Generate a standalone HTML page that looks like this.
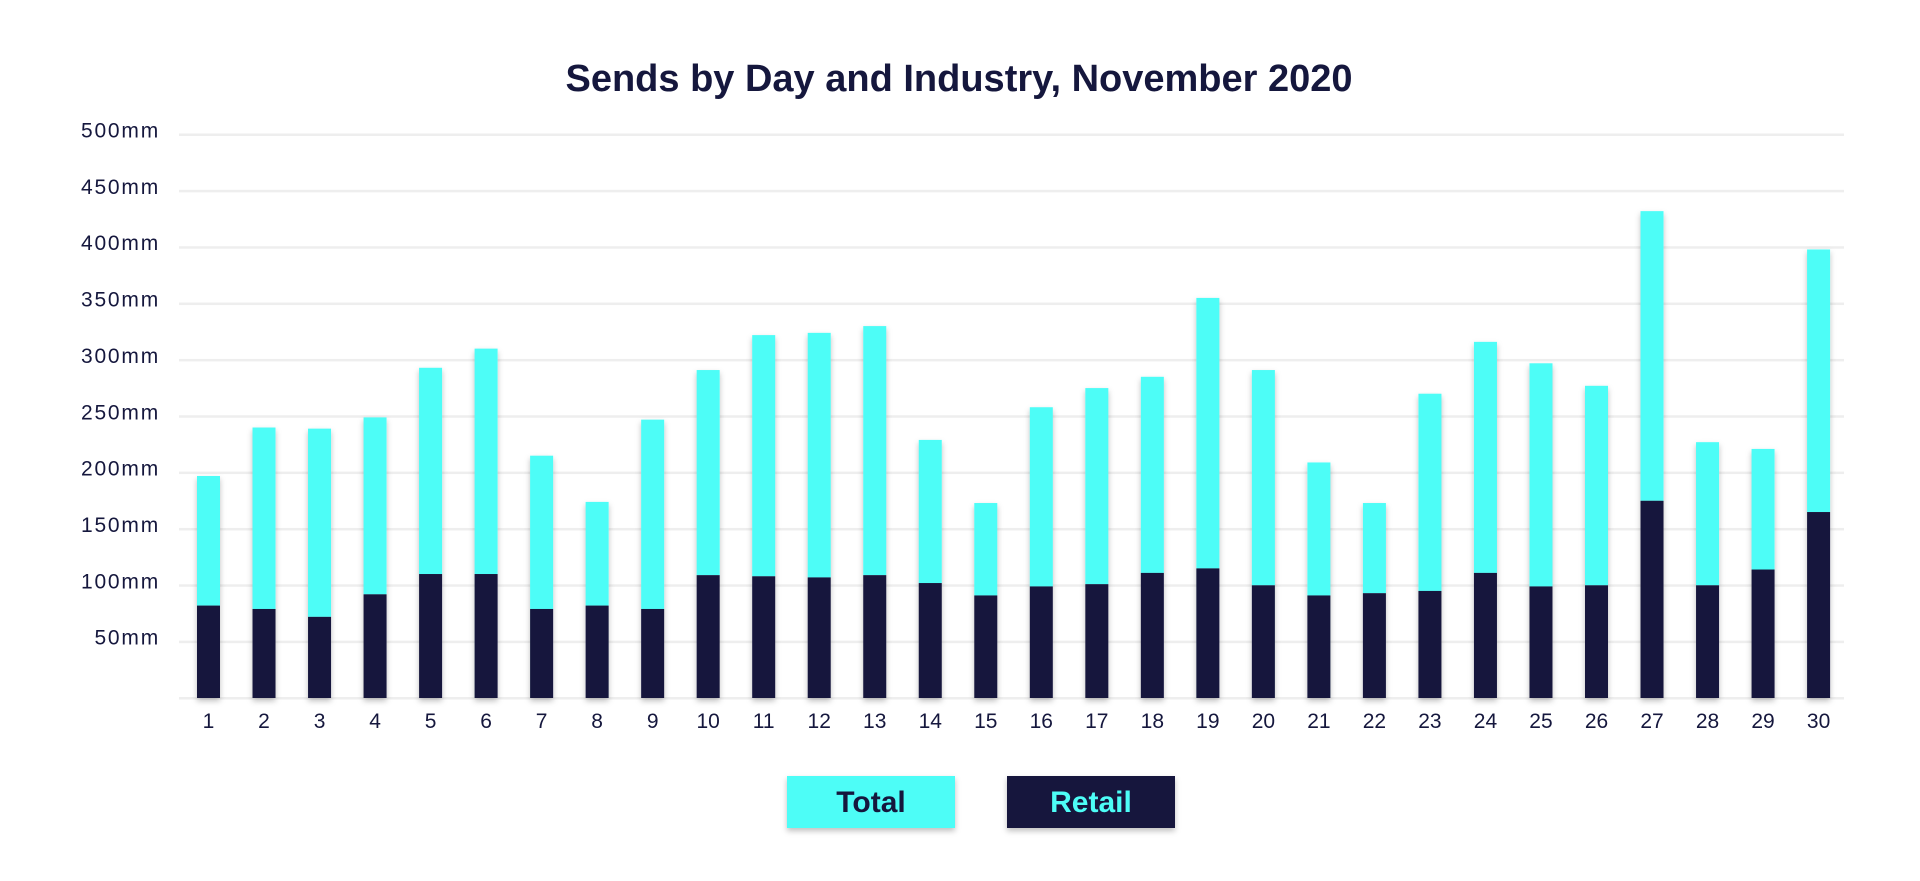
<!DOCTYPE html>
<html><head><meta charset="utf-8"><style>
html,body{margin:0;padding:0;background:#fff;}
body{width:1920px;height:876px;overflow:hidden;position:relative;font-family:"Liberation Sans",sans-serif;color:#15173d;}
</style></head><body>
<svg width="1920" height="876" viewBox="0 0 1920 876" xmlns="http://www.w3.org/2000/svg">
<defs>
<filter id="sh" x="-30%" y="-10%" width="160%" height="130%"><feDropShadow dx="0" dy="3" stdDeviation="3" flood-color="#000" flood-opacity="0.25"/></filter>
</defs>
<text x="959" y="91" text-anchor="middle" font-family="Liberation Sans, sans-serif" font-weight="bold" font-size="38" fill="#15173d">Sends by Day and Industry, November 2020</text>
<g id="grid"></g>
<g id="bars"></g>
<g id="xl"></g>
<g filter="url(#sh)">
<rect x="787" y="776" width="168" height="52" fill="#4dfdf7"/>
<rect x="1007" y="776" width="168" height="52" fill="#15173d"/>
</g>
<text x="871" y="812" text-anchor="middle" font-weight="bold" font-size="30" fill="#15173d" font-family="Liberation Sans, sans-serif">Total</text>
<text x="1091" y="812" text-anchor="middle" font-weight="bold" font-size="30" fill="#4dfdf7" font-family="Liberation Sans, sans-serif">Retail</text>
</svg>
<script>
var NS="http://www.w3.org/2000/svg";
function el(t,a,p,txt){var e=document.createElementNS(NS,t);for(var k in a)e.setAttribute(k,a[k]);if(txt)e.textContent=txt;document.getElementById(p).appendChild(e);return e;}
var base=698,k=1.127;
for(var v=0;v<=500;v+=50){var y=base-v*k;el('rect',{x:179,y:y-1,width:1665,height:2.5,fill:'#eeeeee'},'grid');
if(v>0)el('text',{x:160,y:y+3,'text-anchor':'end','font-size':21,'letter-spacing':'1.8',fill:'#15173d','font-family':'Liberation Sans, sans-serif'},'grid',v+'mm');}
var T=[197,240,239,249,293,310,215,174,247,291,322,324,330,229,173,258,275,285,355,291,209,173,270,316,297,277,432,227,221,398];
var R=[82,79,72,92,110,110,79,82,79,109,108,107,109,102,91,99,101,111,115,100,91,93,95,111,99,100,175,100,114,165];
for(var i=0;i<30;i++){var x=197+55.52*i;
var g=el('g',{filter:'url(#sh)'},'bars');
var th=T[i]*k,rh=R[i]*k;
var r1=document.createElementNS(NS,'rect');r1.setAttribute('x',x);r1.setAttribute('y',base-th);r1.setAttribute('width',23);r1.setAttribute('height',th-rh);r1.setAttribute('fill','#4dfdf7');g.appendChild(r1);
var r2=document.createElementNS(NS,'rect');r2.setAttribute('x',x);r2.setAttribute('y',base-rh);r2.setAttribute('width',23);r2.setAttribute('height',rh);r2.setAttribute('fill','#15173d');g.appendChild(r2);
el('text',{x:x+11.5,y:728,'text-anchor':'middle','font-size':21,fill:'#15173d','font-family':'Liberation Sans, sans-serif'},'xl',String(i+1));}
</script>
</body></html>
